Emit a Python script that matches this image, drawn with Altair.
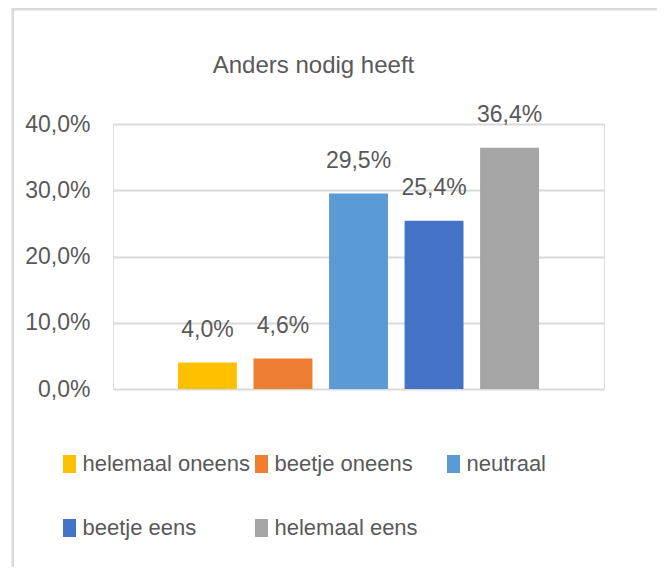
import altair as alt
import pandas as pd

categories = ["helemaal oneens", "beetje oneens", "neutraal", "beetje eens", "helemaal eens"]
values = [0.040, 0.046, 0.295, 0.254, 0.364]
colors = ["#FFC000", "#ED7D31", "#5B9BD5", "#4472C4", "#A5A5A5"]
y_ticks = [0.0, 0.1, 0.2, 0.3, 0.4]

FONT = "Liberation Sans, Arial, sans-serif"
TXT = "#595959"
GRID = "#D9D9D9"

df = pd.DataFrame({"cat": categories, "val": values})
frame_df = pd.DataFrame({"k": [0]})

x_enc = alt.X("cat:N", sort=categories, axis=None,
              scale=alt.Scale(paddingInner=0.22, paddingOuter=0.86))

bars = alt.Chart(df).mark_bar().encode(
    x=x_enc,
    y=alt.Y("val:Q", scale=alt.Scale(domain=[0, 0.4], nice=False),
            axis=alt.Axis(values=y_ticks, title=None, domain=False, ticks=False,
                          grid=True, gridColor=GRID, gridWidth=2,
                          labelExpr="replace(format(datum.value*100, '.1f'), '.', ',') + '%'",
                          labelFont=FONT, labelFontSize=23, labelColor=TXT,
                          labelPadding=23)),
    color=alt.Color("cat:N", sort=categories,
                    scale=alt.Scale(domain=categories, range=colors),
                    legend=alt.Legend(title=None, orient="none", legendX=-54.5, legendY=329,
                                      direction="horizontal", columns=3, gridAlign="all",
                                      columnPadding=0, rowPadding=42,
                                      symbolType="M-0.72,-1H0.72V1H-0.72Z",
                                      symbolSize=324, symbolStrokeWidth=0,
                                      labelFont=FONT, labelFontSize=22, labelColor=TXT,
                                      labelOffset=2, labelLimit=400, padding=0)),
)

labels = alt.Chart(df).transform_calculate(
    lab="replace(format(datum.val*100, '.1f'), '.', ',') + '%'"
).mark_text(font=FONT, fontSize=23, color=TXT, baseline="alphabetic", dy=-26).encode(
    x=x_enc,
    y=alt.Y("val:Q"),
    text="lab:N",
)

border_top = alt.Chart(frame_df).mark_rect(color=GRID).encode(
    x=alt.value(-101.5), x2=alt.value(560), y=alt.value(-116), y2=alt.value(-113.5)
)
border_left = alt.Chart(frame_df).mark_rect(color=GRID).encode(
    x=alt.value(-101.5), x2=alt.value(-99), y=alt.value(-116), y2=alt.value(460)
)

chart = alt.layer(bars, labels, border_top, border_left).properties(
    width=491, height=265,
    autosize=alt.AutoSizeParams(type="none"),
    padding={"left": 105, "top": 116, "right": 53, "bottom": 178},
    title=alt.Title("Anders nodig heeft", font=FONT, fontSize=24, fontWeight="normal",
                    color=TXT, anchor="middle", frame="group", dx=-45,
                    baseline="alphabetic", offset=0, dy=89),
).configure_view(stroke="transparent", strokeWidth=0).configure(background="white")

chart.save("out.html", embed_options={"renderer": "svg", "actions": False})
